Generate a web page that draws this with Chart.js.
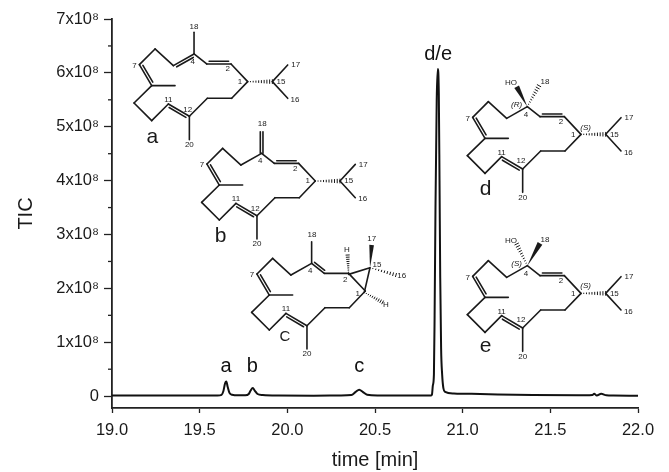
<!DOCTYPE html>
<html>
<head>
<meta charset="utf-8">
<title>TIC chromatogram</title>
<script src="https://cdn.jsdelivr.net/npm/chart.js@4"></script>
<style>
  html, body { margin: 0; padding: 0; background: #fff; }
  canvas { display: block; filter: blur(0.45px); }
</style>
</head>
<body>
<canvas id="chart" width="669" height="472"></canvas>
<script>
// trace
const timeValues = [
  19.0, 19.2, 19.4, 19.55, 19.6, 19.625, 19.635, 19.645, 19.652, 19.66, 19.67, 19.685, 19.72,
  19.76, 19.78, 19.79, 19.803, 19.815, 19.83, 19.86, 19.95, 20.15, 20.3, 20.365, 20.39, 20.41,
  20.43, 20.455, 20.52, 20.7, 20.82, 20.825, 20.83, 20.836, 20.84, 20.845, 20.852, 20.858, 20.864,
  20.868, 20.872, 20.877, 20.883, 20.89, 20.9, 20.95, 21.1, 21.4, 21.7, 21.74, 21.75, 21.765,
  21.79, 21.82, 21.86, 22.0
];
const ticValues = [
  0.01e8, 0.01e8, 0.01e8, 0.01e8, 0.012e8, 0.025e8, 0.09e8, 0.24e8, 0.27e8, 0.17e8, 0.06e8, 0.025e8, 0.015e8,
  0.015e8, 0.04e8, 0.1e8, 0.15e8, 0.1e8, 0.04e8, 0.02e8, 0.01e8, 0.008e8, 0.012e8, 0.02e8, 0.08e8, 0.12e8,
  0.08e8, 0.025e8, 0.012e8, 0.01e8, 0.01e8, 0.03e8, 0.2e8, 0.4e8, 1.5e8, 3.5e8, 5.5e8, 6.07e8, 5.6e8,
  4.0e8, 2.2e8, 0.9e8, 0.4e8, 0.15e8, 0.08e8, 0.05e8, 0.04e8, 0.02e8, 0.015e8, 0.02e8, 0.045e8, 0.012e8,
  0.045e8, 0.015e8, 0.01e8, 0.008e8
];
const yTickValues = [0, 0.5e8, 1e8, 1.5e8, 2e8, 2.5e8, 3e8, 3.5e8, 4e8, 4.5e8, 5e8, 5.5e8, 6e8, 6.5e8, 7e8];
const xTickValues = [19, 19.5, 20, 20.5, 21, 21.5, 22];
const peakNames = ['a', 'b', 'c', 'd/e'];
const peakTimes = [19.65, 19.8, 20.41, 20.86];
const peakLabelValues = [0.55e8, 0.55e8, 0.55e8, 6.34e8];

// --- structure drawings, in zoomed units (3 units = 1px)
const P = {
  c4: [217, 125], c5: [155, 160], c6: [100, 110], c7: [53, 157], c8: [90, 220], me8: [160, 220],
  c9: [37, 272], c10: [90, 325], c11: [140, 275], c12: [203, 312], me12: [203, 382],
  c13: [257, 258], c14: [330, 258], c1: [378, 208], c2: [328, 155], c3: [255, 155],
  c15: [452, 208], c16: [498, 258], c17: [498, 158],
  top: [217, 60]
};
const ringBonds = [
  ['c5', 'c6'], ['c6', 'c7'], ['c8', 'me8'], ['c8', 'c9'], ['c9', 'c10'], ['c10', 'c11'],
  ['c12', 'me12'], ['c12', 'c13'], ['c13', 'c14'], ['c14', 'c1']
];
const ringDoubles = [['c7', 'c8', -1], ['c11', 'c12', 1]];
const tailBonds = [['c15', 'c16'], ['c15', 'c17']];
const ringLabels = [['7', 38, 160], ['11', 140, 262], ['20', 203, 397], ['4', 213, 148]];
const tailLabels = [['1', 355, 208], ['2', 318, 170], ['15', 478, 208], ['17', 522, 158], ['16', 520, 262]];

const molecules = [
  {
    name: 'a', x: 121.7, y: 12.3, nameAt: [92, 375],
    bonds: [['c3', 'c4'], ['c2', 'c1'], ['c4', 'top']],
    doubles: [['c5', 'c4', 1], ['c2', 'c3', 1]],
    hashes: [[P.c1, P.c15, 6]], wedges: [], tail: true,
    labels: [['18', 217, 43], ['12', 198, 291]]
  },
  {
    name: 'b', x: 189.3, y: 111.7, nameAt: [94, 373],
    bonds: [['c4', 'c5'], ['c3', 'c4'], ['c2', 'c1']],
    doubles: [['c2', 'c3', 1], ['c4', 'top', 1, true]],
    hashes: [[P.c1, P.c15, 6]], wedges: [], tail: true,
    labels: [['18', 219, 37], ['12', 198, 291]]
  },
  {
    name: 'C', x: 239.3, y: 221.7, nameAt: [137, 345],
    bonds: [['c4', 'c5'], ['c3', 'c2'], ['c2', 'c1'], ['c4', 'top']],
    doubles: [['c4', 'c3', -1]],
    extra: [[[328, 158], [392, 138]], [[392, 138], [375, 212]]],
    hashes: [[[328, 158], [325, 100], 5], [[392, 138], [470, 160], 5], [[375, 212], [430, 242], 5]],
    wedges: [[[392, 138], [397, 70], 7]], tail: false,
    labels: [['18', 218, 40], ['H', 323, 85], ['17', 397, 50], ['15', 413, 130], ['16', 487, 162],
      ['H', 440, 248], ['1', 355, 215], ['2', 318, 175]]
  },
  {
    name: 'd', x: 455, y: 65, nameAt: [92, 372],
    bonds: [['c4', 'c5'], ['c3', 'c4'], ['c2', 'c1']],
    doubles: [['c2', 'c3', 1]],
    hashes: [[P.c1, P.c15, 6], [P.c4, [252, 62], 6]],
    wedges: [[P.c4, [185, 65], 8]], tail: true,
    labels: [['HO', 168, 52], ['18', 270, 50], ['12', 198, 288]],
    italics: [['(R)', 185, 118], ['(S)', 392, 188]]
  },
  {
    name: 'e', x: 455, y: 224, nameAt: [92, 366],
    bonds: [['c4', 'c5'], ['c3', 'c4'], ['c2', 'c1']],
    doubles: [['c2', 'c3', 1]],
    hashes: [[P.c1, P.c15, 6], [P.c4, [185, 60], 6]],
    wedges: [[P.c4, [255, 58], 8]], tail: true,
    labels: [['HO', 168, 50], ['18', 270, 46], ['12', 198, 288]],
    italics: [['(S)', 185, 118], ['(S)', 392, 184]]
  }
];

function pick(p) {
  return typeof p === 'string' ? P[p] : p;
}

function line(ctx, a, b) {
  ctx.beginPath();
  ctx.moveTo(a[0] / 3, a[1] / 3);
  ctx.lineTo(b[0] / 3, b[1] / 3);
  ctx.stroke();
}

function doubleBond(ctx, a, b, side, centred) {
  const dx = b[0] - a[0], dy = b[1] - a[1];
  const len = Math.hypot(dx, dy);
  const nx = -dy / len * side, ny = dx / len * side;
  if (centred) {
    line(ctx, [a[0] - nx * 4, a[1] - ny * 4], [b[0] - nx * 4, b[1] - ny * 4]);
    line(ctx, [a[0] + nx * 4, a[1] + ny * 4], [b[0] + nx * 4, b[1] + ny * 4]);
    return;
  }
  line(ctx, a, b);
  const gap = 8;
  line(ctx,
    [a[0] + dx * 0.1 + nx * gap, a[1] + dy * 0.1 + ny * gap],
    [b[0] - dx * 0.1 + nx * gap, b[1] - dy * 0.1 + ny * gap]);
}

function hashBond(ctx, a, b, wide) {
  const dx = b[0] - a[0], dy = b[1] - a[1];
  const len = Math.hypot(dx, dy);
  const nx = -dy / len, ny = dx / len;
  const count = 9;
  ctx.save();
  ctx.lineWidth = 1;
  for (let i = 1; i <= count; i++) {
    const t = i / count, w = wide * t;
    const mx = a[0] + dx * t, my = a[1] + dy * t;
    line(ctx, [mx - nx * w, my - ny * w], [mx + nx * w, my + ny * w]);
  }
  ctx.restore();
}

function wedgeBond(ctx, a, b, wide) {
  const dx = b[0] - a[0], dy = b[1] - a[1];
  const len = Math.hypot(dx, dy);
  const nx = -dy / len, ny = dx / len;
  ctx.beginPath();
  ctx.moveTo(a[0] / 3, a[1] / 3);
  ctx.lineTo((b[0] + nx * wide) / 3, (b[1] + ny * wide) / 3);
  ctx.lineTo((b[0] - nx * wide) / 3, (b[1] - ny * wide) / 3);
  ctx.closePath();
  ctx.fill();
}

function drawMolecule(ctx, m) {
  ctx.save();
  ctx.translate(m.x, m.y);
  ctx.strokeStyle = '#1a1a1a';
  ctx.fillStyle = '#1a1a1a';
  ctx.lineWidth = 1.6;
  ctx.lineCap = 'round';

  ringBonds.concat(m.bonds).forEach(b => line(ctx, pick(b[0]), pick(b[1])));
  if (m.tail) tailBonds.forEach(b => line(ctx, pick(b[0]), pick(b[1])));
  ringDoubles.concat(m.doubles).forEach(d => doubleBond(ctx, pick(d[0]), pick(d[1]), d[2], d[3]));
  (m.extra || []).forEach(b => line(ctx, b[0], b[1]));
  m.hashes.forEach(h => hashBond(ctx, h[0], h[1], h[2]));
  m.wedges.forEach(w => wedgeBond(ctx, w[0], w[1], w[2]));

  ctx.textAlign = 'center';
  ctx.textBaseline = 'middle';
  ctx.font = '8px "Liberation Sans", Arial, sans-serif';
  ringLabels.concat(m.labels).forEach(l => {
    if (m.name === 'C' && l[0] === '12') return;
    ctx.fillText(l[0], l[1] / 3, l[2] / 3);
  });
  if (m.tail) tailLabels.forEach(l => ctx.fillText(l[0], l[1] / 3, l[2] / 3));
  ctx.font = 'italic 8px "Liberation Sans", Arial, sans-serif';
  (m.italics || []).forEach(l => ctx.fillText(l[0], l[1] / 3, l[2] / 3));

  ctx.font = (m.name === 'C' ? 15 : 21) + 'px "Liberation Sans", Arial, sans-serif';
  ctx.fillText(m.name, m.nameAt[0] / 3, m.nameAt[1] / 3);
  ctx.restore();
}

const annotationPlugin = {
  id: 'annotations',
  afterDraw(chart) {
    const ctx = chart.ctx;
    const xs = chart.scales.x, ys = chart.scales.y;

    // half step ticks, the library only has one tick length
    ctx.save();
    ctx.strokeStyle = '#222';
    ctx.lineWidth = 1.3;
    ys.ticks.forEach(t => {
      if (t.value % 1e8 === 0) return;
      const py = ys.getPixelForValue(t.value);
      ctx.beginPath();
      ctx.moveTo(xs.left - 4, py);
      ctx.lineTo(xs.left, py);
      ctx.stroke();
    });

    ctx.fillStyle = '#111';
    ctx.textAlign = 'center';
    ctx.textBaseline = 'middle';
    ctx.font = '20px "Liberation Sans", Arial, sans-serif';
    peakNames.forEach((name, i) => {
      ctx.fillText(name, xs.getPixelForValue(peakTimes[i]), ys.getPixelForValue(peakLabelValues[i]));
    });
    ctx.restore();

    molecules.forEach(m => drawMolecule(ctx, m));
  }
};

const plotLeft = 112;
const titleInset = 14;
const plotBottomGap = 64;
const fontFamily = '"Liberation Sans", Arial, sans-serif';

new Chart(document.getElementById('chart').getContext('2d'), {
  type: 'line',
  data: {
    datasets: [{
      label: 'TIC',
      data: timeValues.map((t, i) => ({ x: t, y: ticValues[i] })),
      borderColor: '#111',
      borderWidth: 2,
      pointRadius: 0,
      cubicInterpolationMode: 'monotone'
    }]
  },
  options: {
    responsive: false,
    animation: false,
    layout: { padding: { top: 19, right: 31, left: titleInset, bottom: 0 } },
    plugins: { legend: { display: false }, tooltip: { enabled: false } },
    scales: {
      x: {
        type: 'linear',
        min: 19,
        max: 22,
        afterFit(scale) { scale.height = plotBottomGap; },
        afterBuildTicks(scale) { scale.ticks = xTickValues.map(v => ({ value: v })); },
        grid: { drawOnChartArea: false, tickLength: 5, tickWidth: 1.3, tickColor: '#222' },
        border: { color: '#222', width: 1.8 },
        ticks: {
          maxRotation: 0,
          autoSkip: false,
          color: '#1a1a1a',
          padding: 8,
          font: { family: fontFamily, size: 16.5 },
          callback: v => v.toFixed(1)
        },
        title: {
          display: true,
          text: 'time [min]',
          color: '#1a1a1a',
          font: { family: fontFamily, size: 20 },
          padding: { top: 7, bottom: 0 }
        }
      },
      y: {
        min: -0.22e8,
        max: 7e8,
        afterFit(scale) { scale.width = plotLeft - titleInset; },
        afterBuildTicks(scale) { scale.ticks = yTickValues.map(v => ({ value: v })); },
        grid: {
          drawOnChartArea: false,
          tickLength: 8,
          tickWidth: 1.3,
          tickColor: ctx => (ctx.tick && ctx.tick.value % 1e8 === 0 ? '#222' : 'rgba(0,0,0,0)')
        },
        border: { color: '#222', width: 1.8 },
        ticks: {
          autoSkip: false,
          color: '#1a1a1a',
          padding: 5,
          font: { family: fontFamily, size: 16.5 },
          callback: v => {
            if (v % 1e8 !== 0) return '';
            return v === 0 ? '0' : (v / 1e8) + 'x10\u2078';
          }
        },
        title: {
          display: true,
          text: 'TIC',
          color: '#1a1a1a',
          font: { family: fontFamily, size: 20 },
          padding: { top: 0, bottom: 0 }
        }
      }
    }
  },
  plugins: [annotationPlugin]
});
</script>
</body>
</html>
